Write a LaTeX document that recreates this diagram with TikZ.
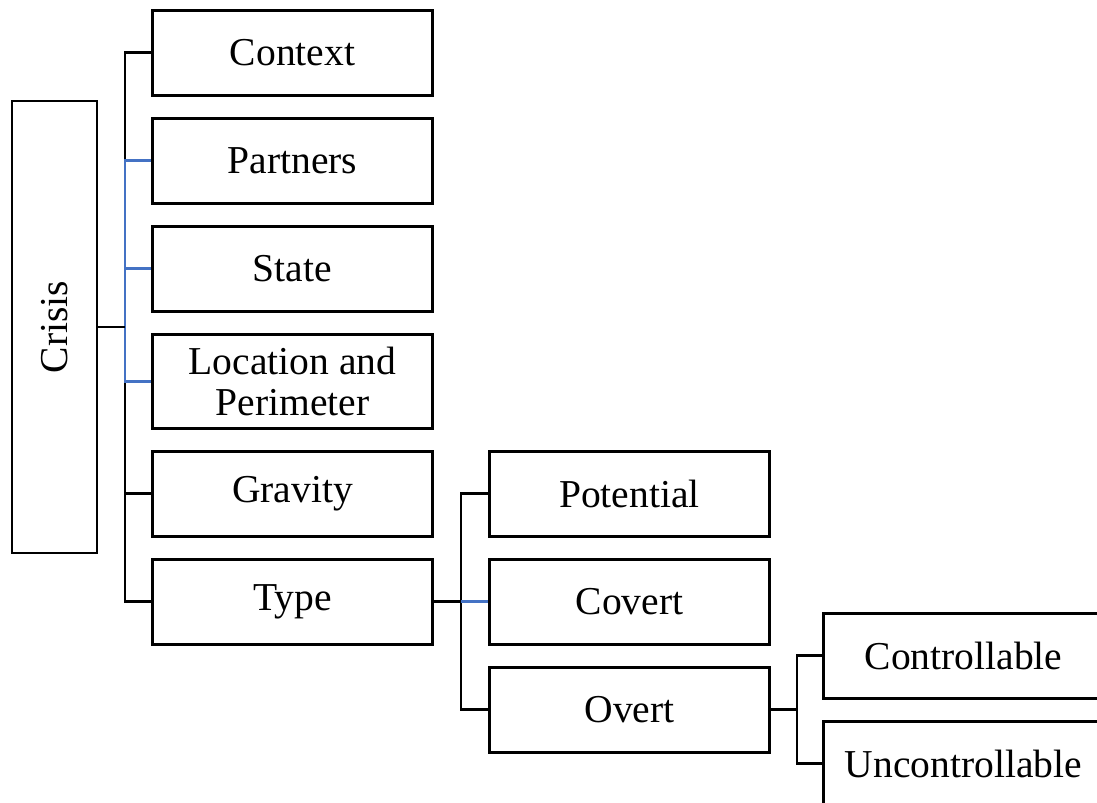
\documentclass[tikz,border=0pt]{standalone}
\usepackage{fontspec}
\setmainfont{Liberation Serif}
\usepackage{xcolor}
\usetikzlibrary{positioning}
\definecolor{xblue}{HTML}{4472C4}

\begin{document}
\begin{tikzpicture}[
    node distance=0.40cm and 1.08cm,
    box/.style={rectangle, draw, line width=1.7pt, minimum height=1.7cm, minimum width=5.6cm, inner sep=2pt, align=center, font=\fontsize{22.5}{23}\selectfont},
    link/.style={draw, line width=1.7pt},
    blink/.style={link, color=xblue},
]
\clip (0,0) rectangle (21.94,-16.06);

% --- Root ---
\node[box, minimum width=1.7cm, minimum height=9.04cm] (crisis) at (1.09,-6.54) {\rotatebox{90}{Crisis}};

% --- First level ---
\node[box] (context) at (5.85,-1.06) {Context};
\node[box, below=of context] (partners) {Partners};
\node[box, below=of partners] (state) {State};
\node[box, below=of state, minimum height=1.88cm] (location) {Location and\\Perimeter};
\node[box, below=of location] (gravity) {Gravity};
\node[box, below=of gravity] (type) {Type};

% --- Type branch ---
\node[box, right=of gravity] (potential) {Potential};
\node[box, right=of type] (covert) {Covert};
\node[box, below=of covert] (overt) {Overt};

% --- Overt branch ---
\node[box, right=1.02cm of overt, yshift=1.08cm] (ctrl) {Controllable};
\node[box, below=0.4cm of ctrl] (unctrl) {Uncontrollable};

% --- Connectors: root to first level ---
\draw[link] (crisis.east) -- ++(0.53,0) coordinate (j1);
\draw[link] (context.west) -| (j1) |- (type.west);
\draw[link] (j1 |- gravity.west) -- (gravity.west);
\draw[blink] (partners.west) -| (j1 |- location.west) -- (location.west);
\draw[blink] (j1 |- state.west) -- (state.west);
\draw[link] (crisis.east) -- (j1);

% --- Connectors: type ---
\draw[link] (type.east) -- ++(0.54,0) coordinate (j2);
\draw[link] (potential.west) -| (j2) |- (overt.west);
\draw[blink] (j2) -- (covert.west);

% --- Connectors: overt ---
\draw[link] (overt.east) -- ++(0.52,0) coordinate (j3);
\draw[link] (ctrl.west) -| (j3) |- (unctrl.west);

\end{tikzpicture}
\end{document}
